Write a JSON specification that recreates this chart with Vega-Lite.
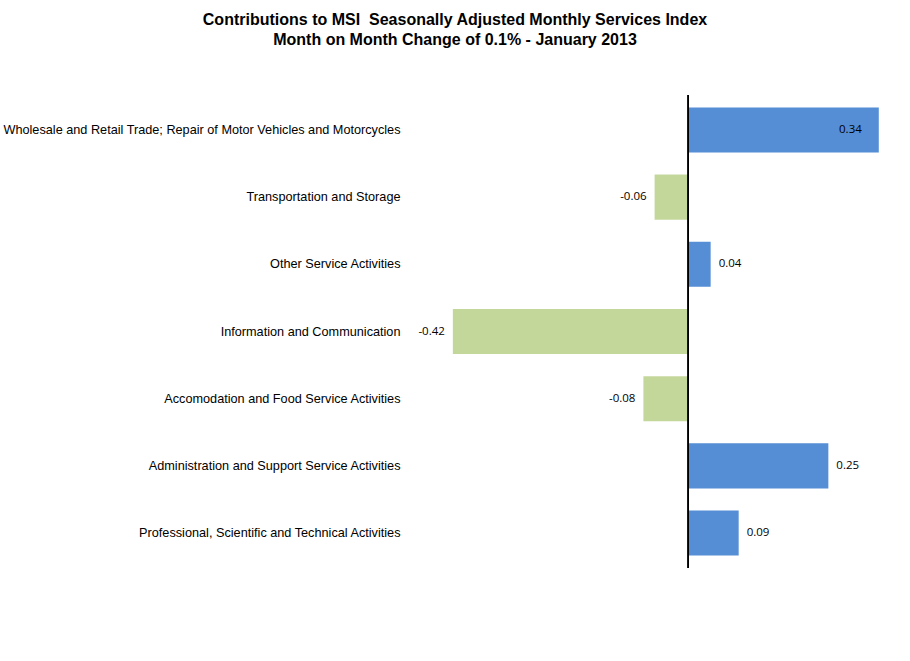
{
  "$schema": "https://vega.github.io/schema/vega-lite/v6.json",
  "width": 482,
  "height": 473,
  "padding": {"left": 2, "top": 11, "right": 5, "bottom": 5},
  "background": "white",
  "config": {
    "view": {"stroke": null},
    "locale": {"number": {"decimal": ".", "thousands": ",", "grouping": [3], "currency": ["$", ""], "minus": "-"}}
  },
  "title": {
    "text": ["Contributions to MSI\u00a0 Seasonally Adjusted Monthly Services Index", "Month on Month Change of 0.1% - January 2013"],
    "font": "Liberation Sans",
    "fontSize": 16,
    "fontWeight": "bold",
    "lineHeight": 20,
    "color": "#000000",
    "anchor": "middle",
    "dx": -194,
    "offset": 47
  },
  "data": {
    "values": [
      {"category": "Wholesale and Retail Trade; Repair of Motor Vehicles and Motorcycles", "value": 0.34},
      {"category": "Transportation and Storage", "value": -0.06},
      {"category": "Other Service Activities", "value": 0.04},
      {"category": "Information and Communication", "value": -0.42},
      {"category": "Accomodation and Food Service Activities", "value": -0.08},
      {"category": "Administration and Support Service Activities", "value": 0.25},
      {"category": "Professional, Scientific and Technical Activities", "value": 0.09}
    ]
  },
  "encoding": {
    "y": {
      "field": "category",
      "type": "nominal",
      "sort": null,
      "scale": {"paddingInner": 0.33, "paddingOuter": 0.185},
      "axis": {
        "title": null,
        "domain": false,
        "ticks": false,
        "labelFont": "Liberation Sans",
        "labelFontSize": 12.7,
        "labelColor": "#000000",
        "labelPadding": 8,
        "labelLimit": 1000
      }
    },
    "x": {
      "field": "value",
      "type": "quantitative",
      "scale": {"domain": [-0.5, 0.36], "nice": false, "zero": false},
      "axis": null
    }
  },
  "layer": [
    {
      "mark": {"type": "bar"},
      "encoding": {
        "color": {"condition": {"test": "datum.value > 0", "value": "#558ED5"}, "value": "#C4D79B"}
      }
    },
    {
      "transform": [{"filter": "datum.value > 0 && datum.value < 0.3"}],
      "mark": {"type": "text", "align": "left", "baseline": "middle", "dx": 8, "font": "Open Sans", "fontSize": 11.5, "color": "#000000"},
      "encoding": {"text": {"field": "value", "type": "quantitative", "format": ".2f"}}
    },
    {
      "transform": [{"filter": "datum.value >= 0.3"}],
      "mark": {"type": "text", "align": "right", "baseline": "middle", "dx": -17, "font": "Open Sans", "fontSize": 11.5, "color": "#000000"},
      "encoding": {"text": {"field": "value", "type": "quantitative", "format": ".2f"}}
    },
    {
      "transform": [{"filter": "datum.value < 0"}],
      "mark": {"type": "text", "align": "right", "baseline": "middle", "dx": -8, "font": "Open Sans", "fontSize": 11.5, "color": "#000000"},
      "encoding": {"text": {"field": "value", "type": "quantitative", "format": ".2f"}}
    },
    {
      "mark": {"type": "rule", "color": "#000000", "strokeWidth": 1},
      "encoding": {"x": {"datum": 0}, "y": null}
    }
  ]
}
